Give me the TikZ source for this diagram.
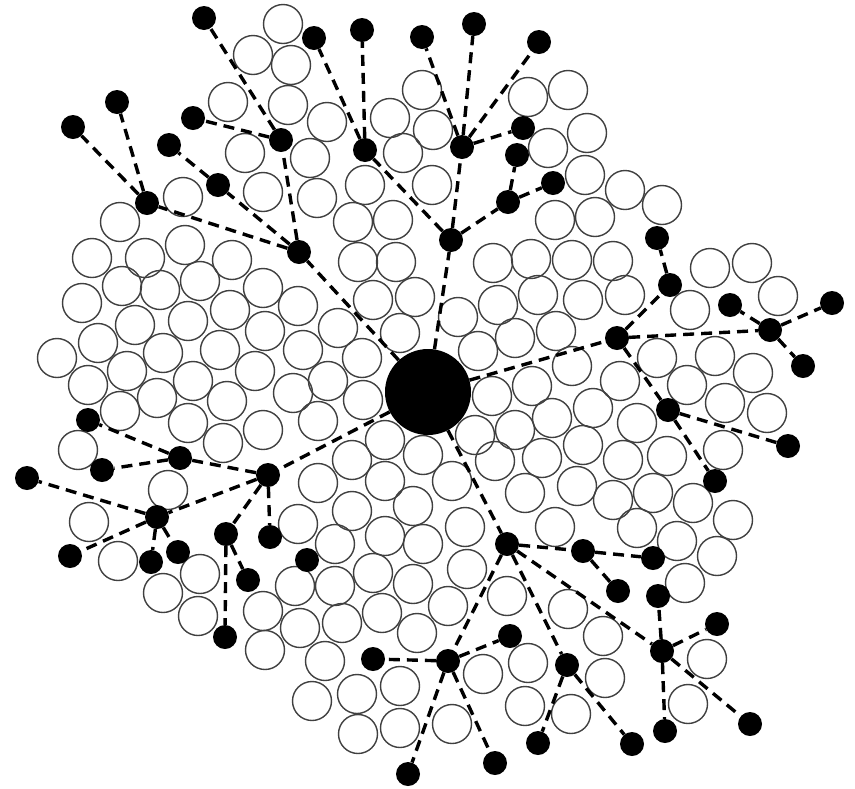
\documentclass[tikz,border=0pt]{standalone}
\begin{document}
\begin{tikzpicture}[x=1pt,y=-1pt,
  ocirc/.style={draw=black!75,line width=1.4pt},
  bdot/.style={circle,fill=black,inner sep=0pt,minimum size=24pt},
  hub/.style={circle,fill=black,inner sep=0pt,minimum size=86pt},
  dashline/.style={draw=black,line width=3.4pt,dash pattern=on 11pt off 7pt}]
\fill[white] (0,0) rectangle (855,788);
\useasboundingbox (0,0) rectangle (855,788);
% open circles
\foreach \x/\y in {283/24, 253/55, 291/65, 228/102, 288/105, 245/153, 263/192, 183/197, 120/222, 92/258, 145/258, 185/245, 232/260,
327/122, 310/158, 317/198, 353/222, 393/220, 358/262, 396/262, 422/90, 390/118, 433/130, 403/153, 365/185, 432/185,
528/97, 568/90, 548/148, 555/220, 493/263, 531/259, 572/260, 587/133, 585/175, 625/190, 662/205, 595/217, 613/261, 710/268, 752/263,
122/286, 160/290, 200/281, 263/288, 82/303, 135/325, 188/321, 230/310, 265/331, 98/343, 57/358, 163/353, 220/350, 127/371, 88/385, 193/381, 255/371, 157/398, 227/401, 120/411, 188/423, 263/430, 223/443, 78/450, 168/490, 89/522,
373/300, 415/297, 458/317, 498/305, 538/295, 298/306, 338/328, 400/333, 515/338, 556/331, 303/350, 362/358, 478/351, 328/381, 492/396, 532/386, 293/393, 363/400, 318/421, 385/440, 475/435, 515/430, 552/418, 352/460, 423/455, 495/461, 542/458, 318/483, 385/481, 452/481, 525/493, 352/511, 413/506, 465/527, 298/524, 555/527, 572/366,
625/295, 583/300, 690/310, 778/296, 657/358, 715/356, 753/373, 620/381, 687/385, 593/408, 725/403, 767/413, 637/423, 583/445, 623/460, 667/456, 723/450, 577/486, 613/500, 653/493, 693/503, 733/520, 637/528,
335/544, 385/536, 423/544, 373/573, 467/569, 295/586, 335/586, 413/584, 507/596, 568/609, 382/613, 448/606, 300/628, 342/623, 417/633, 325/661, 483/674, 528/663, 312/701, 357/694, 400/686, 525/706, 358/734, 400/728, 452/724, 571/714,
118/561, 163/593, 200/574, 198/616, 263/611, 265/650,
677/541, 717/556, 685/583, 603/636, 707/659, 605/678, 688/704}
  \draw[ocirc] (\x,\y) circle[radius=19.5pt];
% hub and dots
\node[hub] (c) at (428,392) {};
\foreach \n/\x/\y in {1/204/18, 2/117/102, 3/73/127, 4/193/118, 5/169/145, 6/218/185, 7/147/203, 8/281/140,
 9/314/38, 10/362/30, 11/422/37, 12/474/24, 13/539/42, 14/365/150, 15/462/147, 16/523/128, 17/517/155,
 18/553/183, 19/508/202, 20/451/240, 21/299/252, 22/657/238, 23/670/285, 24/730/305, 25/832/303,
 26/770/330, 27/617/338, 28/803/366, 29/668/410, 30/788/446, 31/715/481, 32/88/420, 33/180/458,
 34/102/470, 35/27/478, 36/268/475, 37/157/517, 38/70/556, 39/151/562, 40/178/552, 41/226/534,
 42/270/537, 43/248/580, 44/225/637, 45/307/560, 46/507/544, 47/510/636, 48/373/659, 49/448/661,
 50/567/665, 51/538/743, 52/495/763, 53/408/774, 54/583/551, 55/653/558, 56/618/591, 57/658/596,
 58/717/624, 59/662/651, 60/750/724, 61/665/731, 62/632/744}
  \node[bdot] (d\n) at (\x,\y) {};
% connectors
\foreach \a/\b in {c/d21, d21/d7, d7/d2, d7/d3, d21/d6, d6/d5, d21/d8, d8/d4, d8/d1,
 c/d20, d20/d14, d14/d9, d14/d10, d20/d15, d15/d11, d15/d12, d15/d13, d15/d16, d20/d19, d19/d17, d19/d18,
 c/d27, d27/d26, d26/d25, d26/d24, d26/d28, d27/d23, d23/d22, d27/d29, d29/d30, d29/d31,
 c/d36, d36/d37, d36/d33, d33/d32, d33/d34, d37/d35, d37/d38, d37/d39, d37/d40, d36/d41, d41/d44, d41/d43, d36/d42,
 c/d46, d46/d49, d49/d48, d49/d53, d49/d52, d49/d47, d46/d50, d50/d51, d50/d62, d46/d54, d54/d55, d54/d56,
 d46/d59, d59/d57, d59/d58, d59/d60, d59/d61}
  \draw[dashline] (\a) -- (\b);
\end{tikzpicture}
\end{document}
